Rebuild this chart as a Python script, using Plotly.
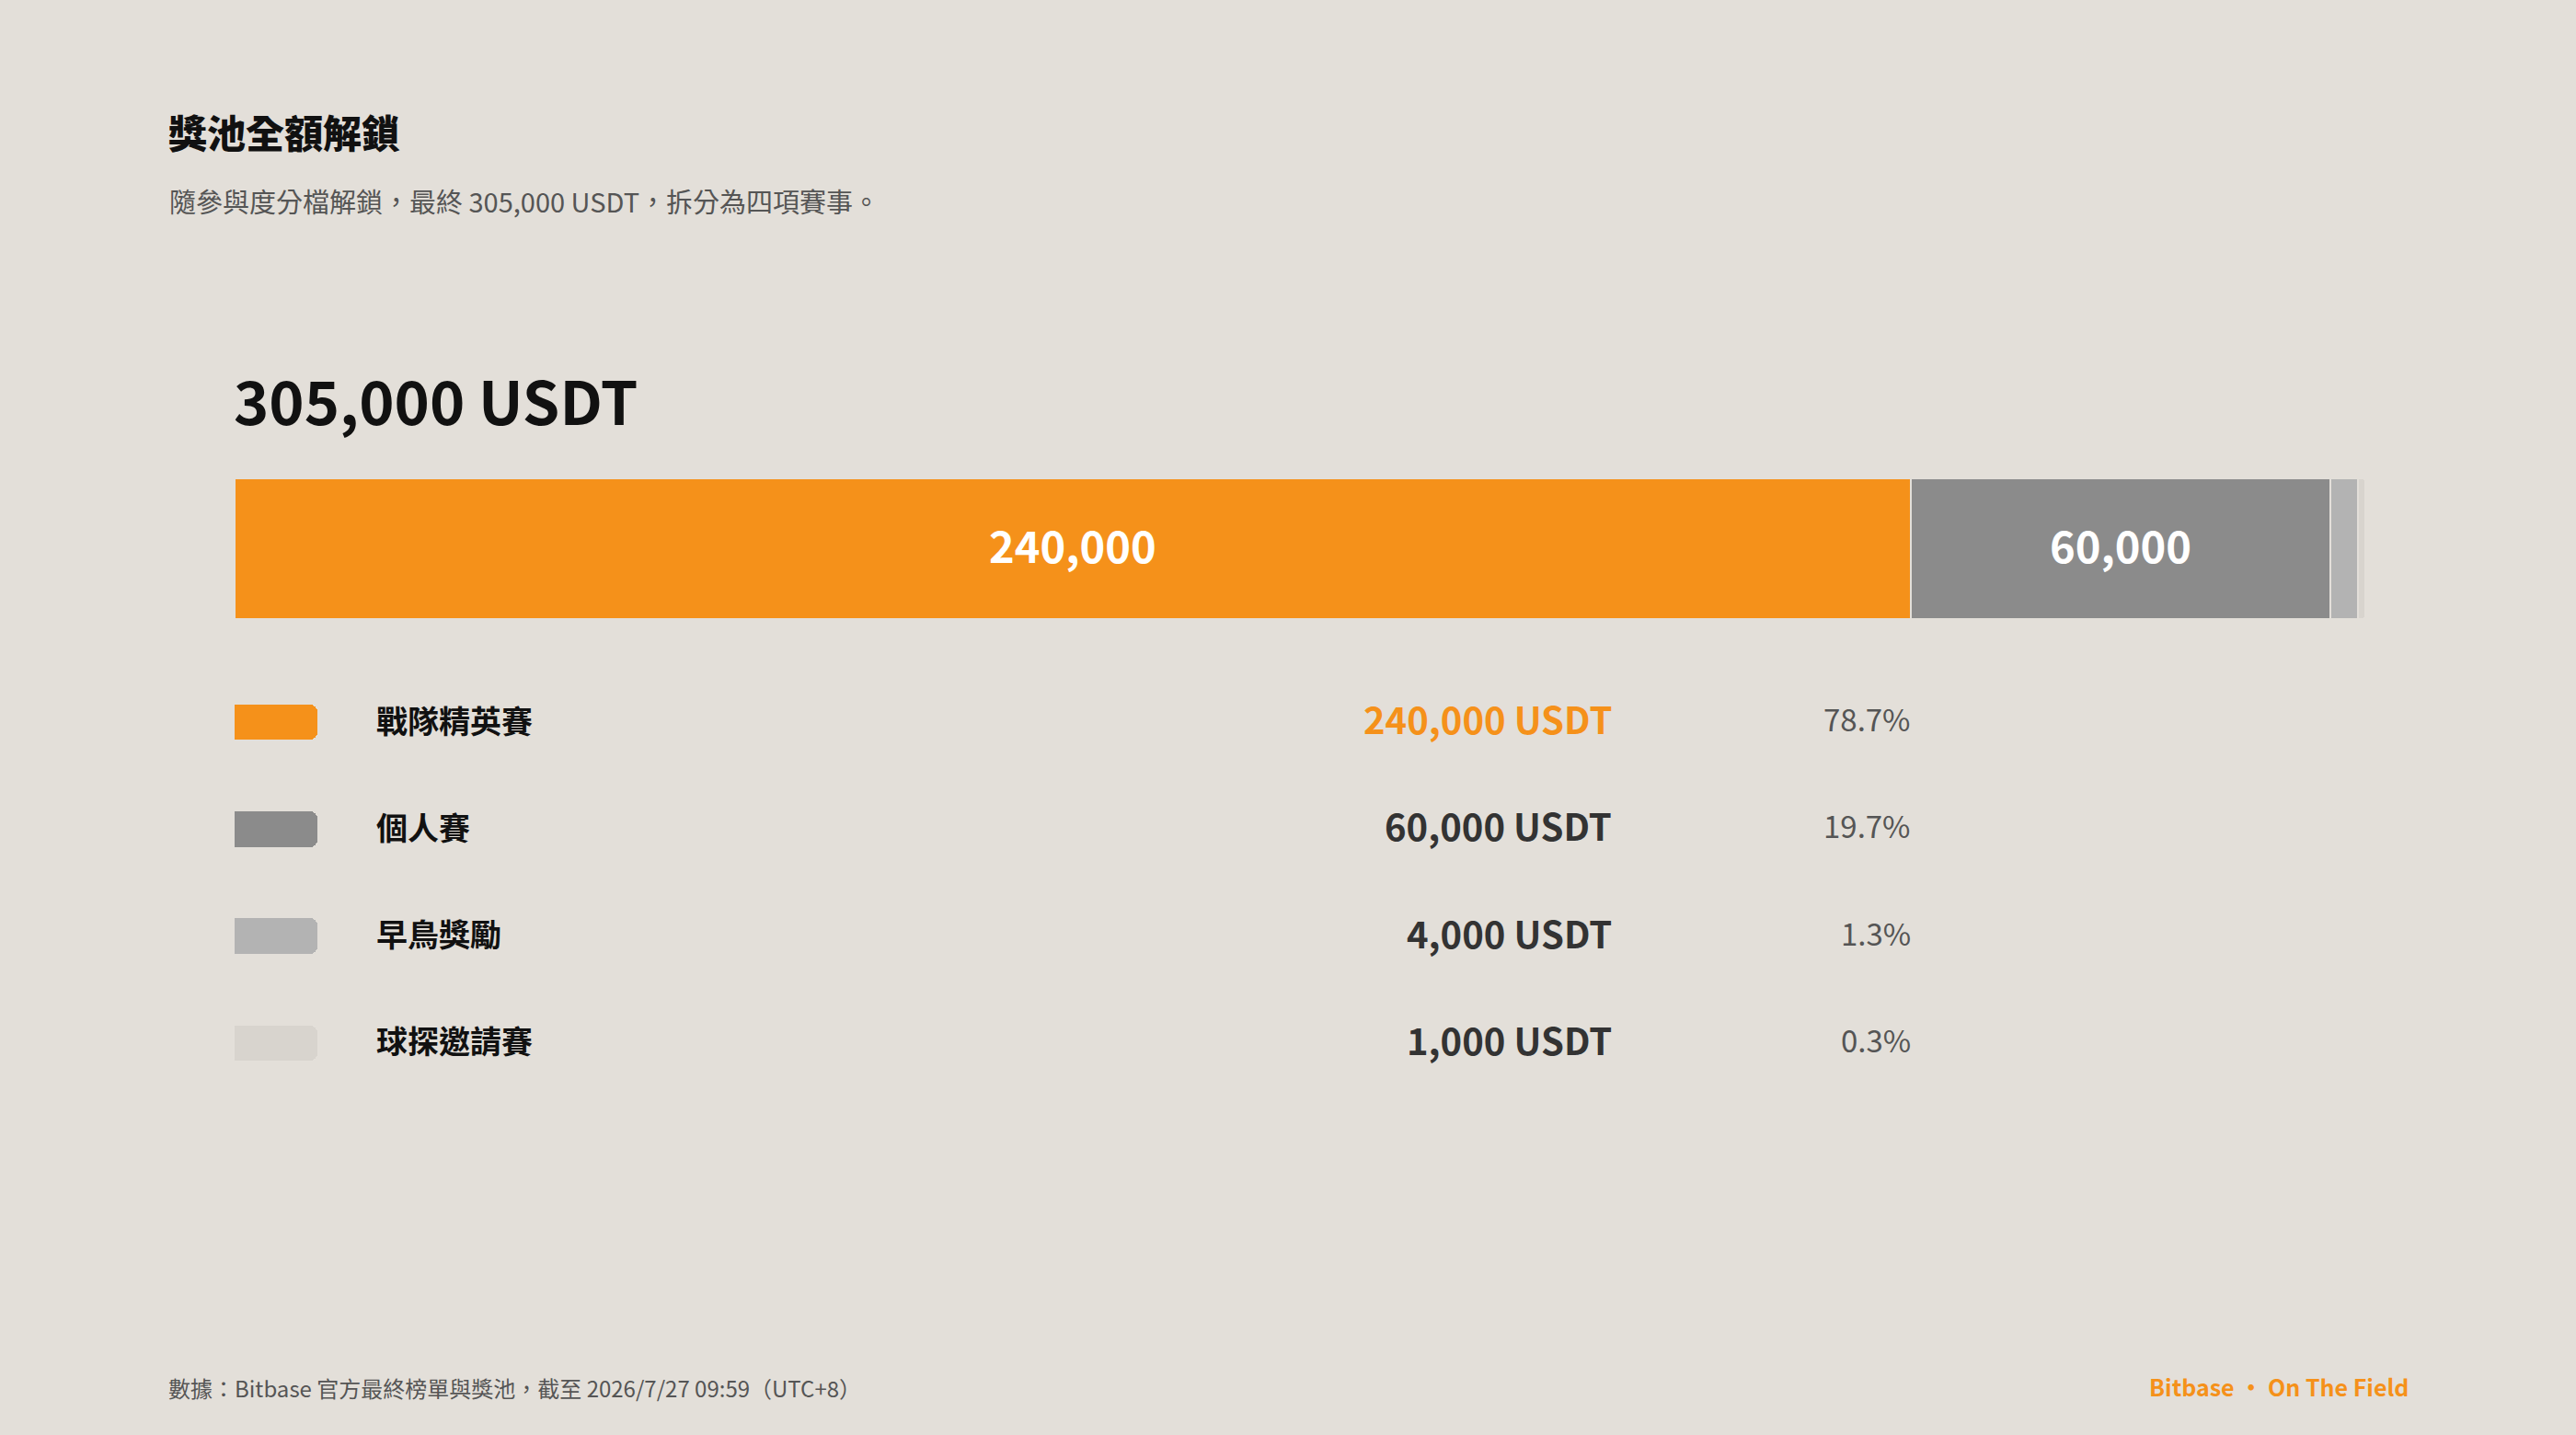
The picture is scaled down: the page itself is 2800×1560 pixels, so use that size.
import plotly.graph_objects as go

W, H = 2800, 1560
BG = "#e3dfd9"
FONT = "Noto Sans CJK TC"

# ---- data ----
title = "獎池全額解鎖"
subtitle = "隨參與度分檔解鎖，最終 305,000 USDT，拆分為四項賽事。"
categories = ["戰隊精英賽", "個人賽", "早鳥獎勵", "球探邀請賽"]
values = [240000, 60000, 4000, 1000]
bar_labels = ["240,000", "60,000", "", ""]
unit = "USDT"
source = "數據：Bitbase 官方最終榜單與獎池，截至 2026/7/27 09:59（UTC+8）"
brand = "Bitbase · On The Field"

# ---- styles ----
colors = ["#f5911a", "#8b8b8b", "#b3b3b3", "#d8d4ce"]
amount_colors = ["#f5911a", "#333333", "#333333", "#333333"]

total = sum(values)


def px(x):
    return x / W


def py(y):
    return 1 - y / H


fig = go.Figure()

# stacked total bar
for i, (cat, v) in enumerate(zip(categories, values)):
    fig.add_trace(go.Bar(
        x=[v], y=[0], orientation="h", name=cat, width=1,
        marker=dict(color=colors[i], line=dict(color=BG, width=2), cornerradius=4),
        hoverinfo="skip", xaxis="x", yaxis="y", showlegend=False,
    ))

# legend swatches
fig.add_trace(go.Bar(
    x=[1] * len(categories), y=categories, orientation="h", width=0.33,
    marker=dict(color=colors, line=dict(width=0), cornerradius=8),
    hoverinfo="skip", xaxis="x2", yaxis="y2", showlegend=False,
))

ann = []
# bar segment labels, placed at segment midpoints on the data axis
cum = 0
for v, lab in zip(values, bar_labels):
    if lab:
        ann.append(dict(text=lab, x=cum + v / 2, y=0, xref="x", yref="y",
                        xanchor="center", yanchor="middle", showarrow=False, yshift=5,
                        font=dict(family=FONT, size=47, color="#ffffff", weight="bold")))
    cum += v

# title / subtitle
ann.append(dict(text=title, x=px(181), y=py(142), xref="paper", yref="paper",
                xanchor="left", yanchor="middle", showarrow=False,
                font=dict(family=FONT, size=42, color="#111111", weight=900)))
ann.append(dict(text=subtitle, x=px(182), y=py(218), xref="paper", yref="paper",
                xanchor="left", yanchor="middle", showarrow=False,
                font=dict(family=FONT, size=29, color="#555555")))
# total
ann.append(dict(text=f"{total:,} {unit}", x=px(252), y=py(434), xref="paper", yref="paper",
                xanchor="left", yanchor="middle", showarrow=False,
                font=dict(family=FONT, size=65, color="#111111", weight="bold")))

for i, (cat, v) in enumerate(zip(categories, values)):
    ann.append(dict(text=cat, x=px(407), y=cat, xref="paper", yref="y2",
                    xanchor="left", yanchor="middle", showarrow=False, yshift=3,
                    font=dict(family=FONT, size=34, color="#111111", weight="bold")))
    ann.append(dict(text=f"{v:,} {unit}", x=px(1754), y=cat, xref="paper", yref="y2",
                    xanchor="right", yanchor="middle", showarrow=False, yshift=4,
                    font=dict(family=FONT, size=40, color=amount_colors[i], weight="bold")))
    ann.append(dict(text=f"{v / total * 100:.1f}%", x=px(2079), y=cat, xref="paper", yref="y2",
                    xanchor="right", yanchor="middle", showarrow=False, yshift=4,
                    font=dict(family=FONT, size=33, color="#555555")))

# footer
ann.append(dict(text=source, x=px(181), y=py(1508), xref="paper", yref="paper",
                xanchor="left", yanchor="middle", showarrow=False,
                font=dict(family=FONT, size=24, color="#555555")))
ann.append(dict(text=brand, x=px(2620), y=py(1507), xref="paper", yref="paper",
                xanchor="right", yanchor="middle", showarrow=False,
                font=dict(family=FONT, size=25, color="#f5911a", weight="bold")))

fig.update_layout(
    width=W, height=H, margin=dict(l=0, r=0, t=0, b=0),
    paper_bgcolor=BG, plot_bgcolor=BG, barmode="stack", bargap=0,
    annotations=ann,
    xaxis=dict(domain=[px(255), px(2571)], range=[0, total], visible=False,
               fixedrange=True, anchor="y"),
    yaxis=dict(domain=[py(673), py(520)], range=[-0.5, 0.5], visible=False,
               fixedrange=True, anchor="x"),
    xaxis2=dict(domain=[px(255), px(345)], range=[0, 1], visible=False,
                fixedrange=True, anchor="y2"),
    yaxis2=dict(domain=[py(1192), py(727)], type="category",
                categoryarray=categories, categoryorder="array",
                range=[len(categories) - 0.5, -0.5], visible=False,
                fixedrange=True, anchor="x2"),
    font=dict(family=FONT),
)

fig.write_html("out.html", config={"displayModeBar": False})
